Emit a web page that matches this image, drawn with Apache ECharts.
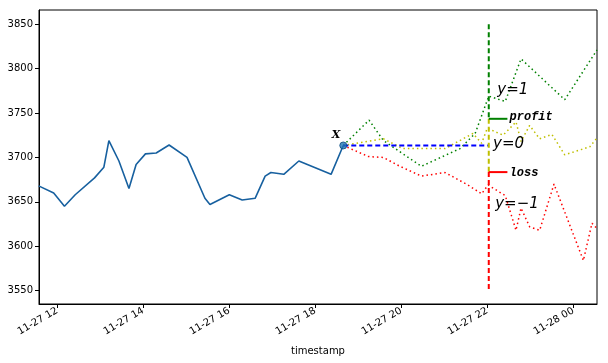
<!DOCTYPE html>
<html><head><meta charset="utf-8">
<script src="https://cdn.jsdelivr.net/npm/echarts@6/dist/echarts.min.js"></script>
<style>html,body{margin:0;padding:0;background:#fff}#c{width:608px;height:363px}</style>
</head><body><div id="c"></div>
<script>
// ---- data ----
var historyTimes = ['11-27 11:34','11-27 11:55','11-27 12:10','11-27 12:25','11-27 12:52','11-27 13:05','11-27 13:12','11-27 13:26','11-27 13:40','11-27 13:50','11-27 14:03','11-27 14:18','11-27 14:36','11-27 15:01','11-27 15:26','11-27 15:33','11-27 16:00','11-27 16:18','11-27 16:36','11-27 16:50','11-27 16:58','11-27 17:16','11-27 17:37','11-27 18:22','11-27 18:39'];
var historyValues = [3668,3660,3645,3658,3677,3689,3719,3696,3665,3692,3704,3705,3714,3700,3654,3647,3658,3652,3654,3679,3683,3681,3696,3681,3713.5];

var xTime = '11-27 18:39';
var xValue = 3713.5;
var profitValue = 3743.5;
var lossValue = 3683.5;
var horizonTime = '11-27 22:02';
var markEndTime = '11-27 22:28';
var vLineTop = 3850;
var vLineBottom = 3550;

var upTimes = ['11-27 18:39','11-27 19:15','11-27 19:35','11-27 20:28','11-27 21:22','11-27 21:43','11-27 22:02','11-27 22:25','11-27 22:47','11-27 23:48','11-28 00:33'];
var upValues = [3713.5,3742,3719,3690,3710,3727,3769,3763,3811,3765,3821];

var midTimes = ['11-27 18:39','11-27 19:35','11-27 20:02','11-27 21:01','11-27 21:40','11-27 21:52','11-27 22:00','11-27 22:22','11-27 22:40','11-27 22:47','11-27 22:59','11-27 23:13','11-27 23:30','11-27 23:48','11-28 00:23','11-28 00:33'];
var midValues = [3713.5,3721,3710,3710,3727,3716,3733,3725,3740,3718,3736,3721,3726,3703,3712,3722];

var downTimes = ['11-27 18:39','11-27 19:14','11-27 19:35','11-27 19:58','11-27 20:28','11-27 21:01','11-27 21:33','11-27 21:52','11-27 22:01','11-27 22:25','11-27 22:40','11-27 22:47','11-27 22:59','11-27 23:13','11-27 23:33','11-28 00:14','11-28 00:26','11-28 00:33'];
var downValues = [3713.5,3701,3700,3690,3679,3683,3669,3659,3669,3657,3618,3643,3622,3618,3670,3584,3626,3620];

var xTickTimes = ['11-27 12:00','11-27 14:00','11-27 16:00','11-27 18:00','11-27 20:00','11-27 22:00','11-28 00:00'];
var xTickLabels = ['11-27 12','11-27 14','11-27 16','11-27 18','11-27 20','11-27 22','11-28 00'];
var yTickValues = [3550,3600,3650,3700,3750,3800,3850];
var xRange = ['11-27 11:34.5','11-28 00:33'];
var yRange = [3535,3866];

// annotation texts: [time, value, text]
var annotations = [
  ['11-27 18:23', 3725, 'X'],
  ['11-27 22:14', 3776, 'y=1'],
  ['11-27 22:08', 3715, 'y=0'],
  ['11-27 22:11', 3648, 'y=\u22121'],
  ['11-27 22:31', 3746, 'profit'],
  ['11-27 22:31', 3683, 'loss']
];

// ---- helpers ----
function tm(s){
  var day = parseInt(s.slice(3,5),10);
  var hm = s.slice(6).split(':');
  return (day-27)*1440 + (parseInt(hm[0],10)-12)*60 + parseFloat(hm[1]);
}
function pairs(ts, vs){ return ts.map(function(t,i){ return [tm(t), vs[i]]; }); }
var xTicks = xTickTimes.map(tm);
var tX = tm(xTime), tH = tm(horizonTime), tE = tm(markEndTime);

var styles = {
  'X':{fontFamily:'DejaVu Serif', fontStyle:'italic', fontWeight:'bold', fontSize:11},
  'y=1':{fontFamily:'DejaVu Sans', fontStyle:'italic', fontSize:15},
  'y=0':{fontFamily:'DejaVu Sans', fontStyle:'italic', fontSize:15},
  'y=\u22121':{fontFamily:'DejaVu Sans', fontStyle:'italic', fontSize:15},
  'profit':{fontFamily:'Liberation Mono', fontStyle:'italic', fontWeight:'bold', fontSize:12},
  'loss':{fontFamily:'Liberation Mono', fontStyle:'italic', fontWeight:'bold', fontSize:12}
};

var chart = echarts.init(document.getElementById('c'));
chart.setOption({
  animation:false,
  grid:{left:39, right:11, top:10, bottom:59, show:true, borderColor:'#000', borderWidth:1, backgroundColor:'transparent'},
  xAxis:{type:'value', min:tm(xRange[0]), max:tm(xRange[1]),
    name:'timestamp', nameLocation:'middle', nameGap:42,
    nameTextStyle:{fontFamily:'DejaVu Sans', fontSize:10, color:'#000'},
    axisLine:{show:true, onZero:false, lineStyle:{color:'#000'}},
    axisTick:{show:true, length:4, customValues:xTicks, lineStyle:{color:'#000'}},
    axisLabel:{customValues:xTicks, rotate:30, fontFamily:'DejaVu Sans', fontSize:10, color:'#000', margin:6,
      formatter:function(v){ var i = xTicks.indexOf(v); return i>=0 ? xTickLabels[i] : ''; }},
    splitLine:{show:false}},
  yAxis:{type:'value', min:yRange[0], max:yRange[1],
    axisLine:{show:true, onZero:false, lineStyle:{color:'#000'}},
    axisTick:{show:true, length:4, customValues:yTickValues, lineStyle:{color:'#000'}},
    axisLabel:{customValues:yTickValues, fontFamily:'DejaVu Sans', fontSize:10, color:'#000', margin:6,
      formatter:function(v){ return String(v); }},
    splitLine:{show:false}},
  series:[
    {type:'line', data:pairs(historyTimes, historyValues), showSymbol:false, lineStyle:{color:'#17609f', width:1.6}, z:3},
    {type:'line', data:pairs(upTimes, upValues), showSymbol:false, lineStyle:{color:'#008000', width:1.5, type:[1.5,3]}, z:2},
    {type:'line', data:pairs(midTimes, midValues), showSymbol:false, lineStyle:{color:'#bfbf00', width:1.5, type:[1.5,3]}, z:2},
    {type:'line', data:pairs(downTimes, downValues), showSymbol:false, lineStyle:{color:'#ff0000', width:1.5, type:[1.5,3]}, z:2},
    {type:'line', data:[[tX,xValue],[tH,xValue]], showSymbol:false, lineStyle:{color:'#0000ff', width:2, type:[5,3]}, z:4},
    {type:'line', data:[[tH,vLineTop],[tH,profitValue]], showSymbol:false, lineStyle:{color:'#008000', width:2, type:[5,3]}, z:4},
    {type:'line', data:[[tH,profitValue],[tH,lossValue]], showSymbol:false, lineStyle:{color:'#bfbf00', width:2, type:[5,3]}, z:4},
    {type:'line', data:[[tH,lossValue],[tH,vLineBottom]], showSymbol:false, lineStyle:{color:'#ff0000', width:2, type:[5,3]}, z:4},
    {type:'line', data:[[tH,profitValue],[tE,profitValue]], showSymbol:false, lineStyle:{color:'#008000', width:2}, z:4},
    {type:'line', data:[[tH,lossValue],[tE,lossValue]], showSymbol:false, lineStyle:{color:'#ff0000', width:2}, z:4},
    {type:'scatter', data:[[tX,xValue]], symbol:'circle', symbolSize:7, itemStyle:{color:'#1f77b4', borderColor:'#0d4a80', borderWidth:1}, z:5}
  ]
});

var graphics = annotations.map(function(a){
  var p = chart.convertToPixel({gridIndex:0}, [tm(a[0]), a[1]]);
  return {type:'text', x:p[0], y:p[1], z:20,
    style:Object.assign({text:a[2], fill:'#000', align:'left', verticalAlign:'middle'}, styles[a[2]])};
});
chart.setOption({graphic:graphics});
</script></body></html>
